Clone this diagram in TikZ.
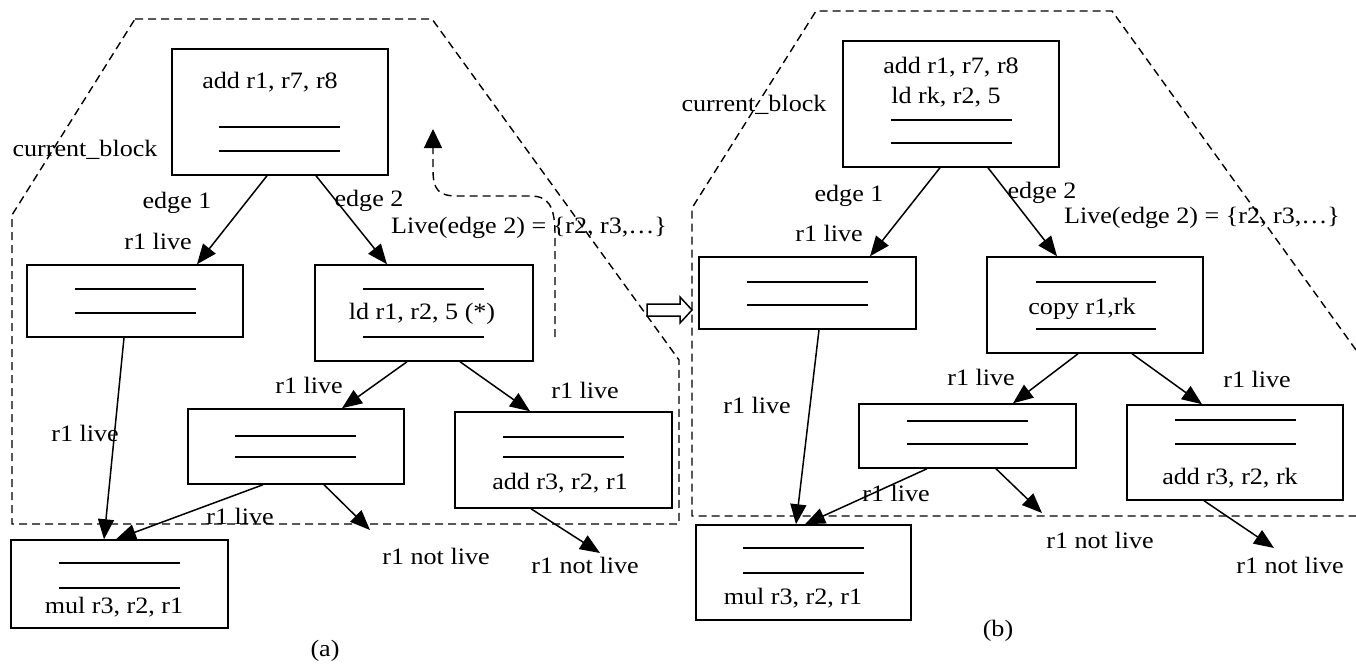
\documentclass[tikz,border=0pt]{standalone}
\usepackage{fontspec}
\setmainfont{Liberation Serif}[FakeStretch=1.11]
\usetikzlibrary{arrows.meta}
\begin{document}
\begin{tikzpicture}[x=1pt,y=-1pt,
  font=\fontsize{23.5}{28}\selectfont,
  bx/.style 2 args={draw, line width=1.5pt, inner sep=0pt, minimum width=#1pt, minimum height=#2pt},
  lbl/.style={inner sep=0pt, text height=16pt, text depth=4pt},
  bar/.style={line width=1.5pt},
  arr/.style={line width=1.5pt, -{Triangle[length=20pt,width=16pt]}},
  region/.style={line width=1.4pt, dash pattern=on 8pt off 5pt},
  ]
\useasboundingbox (0,0) rectangle (1356,666);

% ---------------- (a) ----------------
\draw[region] (135,19) -- (432,19) -- (679,360) -- (679,524) -- (12,524) -- (12,215) -- cycle;

\node[bx={216}{126}] (a1) at (280,112) {};
\node[bx={216}{72}]  (a2) at (135,301) {};
\node[bx={218}{96}]  (a3) at (424,313) {};
\node[bx={216}{75}]  (a4) at (296,446.5) {};
\node[bx={217}{96}]  (a5) at (563.5,460) {};
\node[bx={217}{88}]  (a6) at (119.5,584) {};

\draw[bar] (219,127) -- (340,127) (219,151) -- (340,151);
\draw[bar] (75,289) -- (196,289) (75,313) -- (196,313);
\draw[bar] (363,289) -- (484,289) (363,337) -- (484,337);
\draw[bar] (235,436) -- (356,436) (235,457) -- (356,457);
\draw[bar] (503,437) -- (624,437) (503,457) -- (624,457);
\draw[bar] (59,563) -- (180,563) (59,588) -- (180,588);

\node[lbl] (ta1) at (270,83) {add r1, r7, r8};
\node[lbl] (ta3) at (422,313) {ld r1, r2, 5 (*)};
\node[lbl] (ta5) at (560,483) {add r3, r2, r1};
\node[lbl] (ta6) at (114,607) {mul r3, r2, r1};

\node[lbl] (cba) at (85,150) {current\_block};
\node[lbl] (e1a) at (177,202) {edge 1};
\node[lbl] (l1a) at (158,243) {r1 live};
\node[lbl] (e2a) at (369,200) {edge 2};
\node[lbl] (lva) at (529,227) {Live(edge 2) = \{r2, r3,…\}};
\node[lbl] (l2a) at (309,387) {r1 live};
\node[lbl] (l3a) at (585,392) {r1 live};
\node[lbl] (l4a) at (85,435) {r1 live};
\node[lbl] (l5a) at (240,518) {r1 live};
\node[lbl] (n1a) at (436,558) {r1 not live};
\node[lbl] (n2a) at (585,567) {r1 not live};
\node[lbl] (capa) at (325,650) {(a)};

\coordinate (fa1) at (370,530);
\coordinate (fa2) at (600,553);

\draw[arr] ([xshift=-13pt]a1.south) -- ([xshift=62pt]a2.north);
\draw[arr] ([xshift=36pt]a1.south) -- ([xshift=-37pt]a3.north);
\draw[arr] ([xshift=-17pt]a3.south) -- ([xshift=46pt]a4.north);
\draw[arr] ([xshift=36pt]a3.south) -- ([xshift=-33.5pt]a5.north);
\draw[arr] ([xshift=-11pt]a2.south) -- ([xshift=-15.5pt]a6.north);
\draw[arr] ([xshift=-33pt]a4.south) -- ([xshift=-3.5pt]a6.north);
\draw[arr] ([xshift=28pt]a4.south) -- (fa1);
\draw[arr] ([xshift=-32.5pt]a5.south) -- (fa2);

% dashed return path above edge 2
\coordinate (ra0) at (555,337);
\coordinate (ra1) at (433,129);
\draw[region, -{Triangle[length=19pt,width=18pt]}]
  (ra0) -- (555,235) .. controls (555,205) and (548,196) .. (530,196)
  -- (457,196) .. controls (439,196) and (433,190) .. (433,170) -- (ra1);

% transformation arrow
\draw[line width=1.5pt, fill=white] (647,304) -- (680,304) -- (680,297) -- (692,310)
  -- (680,323) -- (680,316) -- (647,316) -- cycle;

% ---------------- (b) ----------------
\draw[region] (1356,350) -- (1112,11) -- (816,11) -- (692,208) -- (692,516) -- (1356,516);

\node[bx={216}{126}] (b1) at (951,104) {};
\node[bx={217}{72}]  (b2) at (807.5,293) {};
\node[bx={216}{96}]  (b3) at (1095,305) {};
\node[bx={217}{64}]  (b4) at (967.5,436) {};
\node[bx={216}{95}]  (b5) at (1235,452.5) {};
\node[bx={215}{95}]  (b6) at (803.5,572.5) {};

\draw[bar] (891,120) -- (1012,120) (891,143) -- (1012,143);
\draw[bar] (747,282) -- (868,282) (747,305) -- (868,305);
\draw[bar] (1036,282) -- (1156,282) (1036,329) -- (1156,329);
\draw[bar] (907,421) -- (1028,421) (907,444) -- (1028,444);
\draw[bar] (1175,420) -- (1296,420) (1175,444) -- (1296,444);
\draw[bar] (743,548) -- (864,548) (743,573) -- (864,573);

\node[lbl] (tb1) at (951,68) {add r1, r7, r8};
\node[lbl] (tb1b) at (946,98) {ld rk, r2, 5};
\node[lbl] (tb3) at (1082,308) {copy r1,rk};
\node[lbl] (tb5) at (1230,478) {add r3, r2, rk};
\node[lbl] (tb6) at (793,598) {mul r3, r2, r1};

\node[lbl] (cbb) at (754,106) {current\_block};
\node[lbl] (e1b) at (849,195) {edge 1};
\node[lbl] (l1b) at (829,235) {r1 live};
\node[lbl] (e2b) at (1042,192) {edge 2};
\node[lbl] (lvb) at (1202,217) {Live(edge 2) = \{r2, r3,…\}};
\node[lbl] (l2b) at (981,379) {r1 live};
\node[lbl] (l3b) at (1257,381) {r1 live};
\node[lbl] (l4b) at (757,407) {r1 live};
\node[lbl] (l5b) at (896,495) {r1 live};
\node[lbl] (n1b) at (1100,542) {r1 not live};
\node[lbl] (n2b) at (1290,567) {r1 not live};
\node[lbl] (capb) at (998,630) {(b)};

\coordinate (fb1) at (1042,513);
\coordinate (fb2) at (1274,548);

\draw[arr] ([xshift=-11pt]b1.south) -- ([xshift=62.5pt]b2.north);
\draw[arr] ([xshift=37pt]b1.south) -- ([xshift=-38pt]b3.north);
\draw[arr] ([xshift=-17pt]b3.south) -- ([xshift=45.5pt]b4.north);
\draw[arr] ([xshift=37pt]b3.south) -- ([xshift=-33pt]b5.north);
\draw[arr] ([xshift=11.5pt]b2.south) -- ([xshift=-7.5pt]b6.north);
\draw[arr] ([xshift=-40.5pt]b4.south) -- ([xshift=1.5pt]b6.north);
\draw[arr] ([xshift=28.5pt]b4.south) -- (fb1);
\draw[arr] ([xshift=-31pt]b5.south) -- (fb2);
\end{tikzpicture}
\end{document}
